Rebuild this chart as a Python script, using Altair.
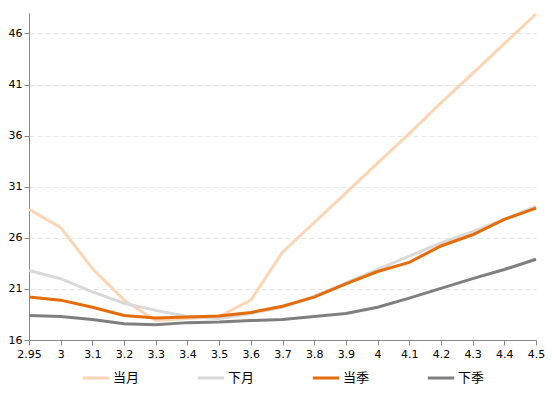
import altair as alt
import pandas as pd

x_labels = ["2.95", "3", "3.1", "3.2", "3.3", "3.4", "3.5", "3.6", "3.7", "3.8",
            "3.9", "4", "4.1", "4.2", "4.3", "4.4", "4.5"]

s_dangyue = [28.8, 27.0, 23.0, 19.9, 17.9, 18.1, 18.3, 19.9, 24.6, 27.5, 30.4, 33.3, 36.2, 39.2, 42.1, 45.0, 47.9]
s_xiayue = [22.8, 22.0, 20.7, 19.6, 18.9, 18.3, 18.1, 18.6, 19.2, 20.3, 21.6, 22.9, 24.2, 25.5, 26.6, 27.8, 29.1]
s_dangji = [20.2, 19.9, 19.2, 18.4, 18.15, 18.25, 18.35, 18.7, 19.3, 20.2, 21.5, 22.7, 23.6, 25.2, 26.3, 27.8, 28.9]
s_xiaji = [18.4, 18.3, 18.0, 17.6, 17.5, 17.7, 17.75, 17.9, 18.0, 18.3, 18.6, 19.2, 20.1, 21.05, 22.0, 22.9, 23.9]

series_names = ["当月", "下月", "当季", "下季"]
series_colors = ["#FCD5B5", "#D9D9D9", "#E46C0A", "#7F7F7F"]
series_values = [s_dangyue, s_xiayue, s_dangji, s_xiaji]

rows = []
for name, vals in zip(series_names, series_values):
    for x, v in zip(x_labels, vals):
        rows.append({"x": x, "value": v, "series": name})
df = pd.DataFrame(rows)

y_ticks = [16, 21, 26, 31, 36, 41, 46]

chart = alt.Chart(df).mark_line(strokeWidth=3).encode(
    x=alt.X("x:N", sort=x_labels, scale=alt.Scale(type="point", padding=0),
            axis=alt.Axis(title=None, labelAngle=0, grid=False, tickSize=5,
                          labelPadding=3, domainColor="#868686", tickColor="#868686",
                          labelFont="DejaVu Sans", labelFontSize=11, labelColor="#000000")),
    y=alt.Y("value:Q", scale=alt.Scale(domain=[16, 48], nice=False, zero=False),
            axis=alt.Axis(title=None, values=y_ticks, tickSize=5, labelPadding=2,
                          domainColor="#868686", tickColor="#868686",
                          gridColor="#E6E6E6", gridDash=[5, 3], gridWidth=1,
                          labelFont="DejaVu Sans", labelFontSize=11, labelColor="#000000")),
    color=alt.Color("series:N", sort=series_names,
                    scale=alt.Scale(domain=series_names, range=series_colors),
                    legend=alt.Legend(title=None, orient="none", direction="horizontal",
                                      legendX=52, legendY=350,
                                      symbolType="stroke", symbolSize=700, symbolStrokeWidth=3,
                                      columnPadding=51, labelFont="Noto Sans CJK SC",
                                      labelFontSize=13, labelColor="#000000", labelOffset=2)),
    order=alt.Order("x:N"),
).properties(
    width=507, height=327,
    padding={"left": 0, "top": 0, "right": 0, "bottom": 0},
).configure_view(stroke=None)

chart.save("out.html", embed_options={"renderer": "svg", "actions": False})
